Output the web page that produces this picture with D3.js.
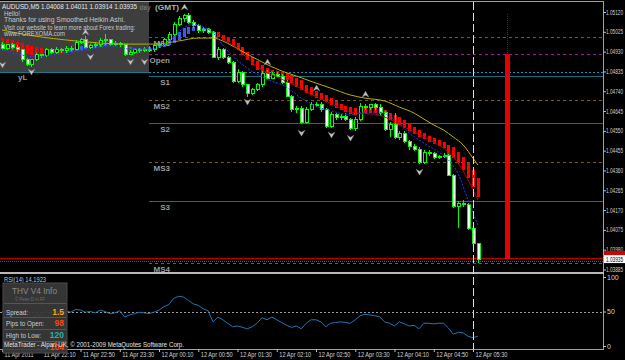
<!DOCTYPE html>
<html>
<head>
<meta charset="utf-8">
<script src="https://cdn.jsdelivr.net/npm/d3@7"></script>
<style>
  body { margin: 0; background: #000; }
  svg { display: block; }
  text { font-family: "Liberation Sans", Arial, sans-serif; }
</style>
</head>
<body>
<div id="chart"></div>
<script>
// AUDUSD M5, 11 Apr 21:30 .. 12 Apr 05:35 (98 bars)
const timeIdx = [0, 8, 16, 24, 32, 40, 48, 56, 64, 72, 80, 88, 96];
const timeLabels = ["11 Apr 2011", "11 Apr 22:10", "11 Apr 22:50", "11 Apr 23:30", "12 Apr 00:10", "12 Apr 00:50",
  "12 Apr 01:30", "12 Apr 02:10", "12 Apr 02:50", "12 Apr 03:30", "12 Apr 04:10", "12 Apr 04:50", "12 Apr 05:30"];
const priceTicks = [1.05120, 1.05025, 1.04930, 1.04835, 1.04740, 1.04645, 1.04550, 1.04455, 1.04360, 1.04265,
  1.04170, 1.04075, 1.03980, 1.03885];

const openP = [1.04966,1.04947,1.04962,1.04952,1.04938,1.04890,1.04870,1.04890,1.04914,1.04909,
  1.04938,1.04928,1.04938,1.04933,1.04947,1.04942,1.04976,1.04986,1.04952,1.04957,
  1.04962,1.04981,1.04986,1.04966,1.04971,1.04962,1.04918,1.04928,1.04938,1.04933,
  1.04942,1.04938,1.04957,1.04966,1.04986,1.05014,1.05062,1.05091,1.05101,1.05072,
  1.05053,1.05029,1.05038,1.05024,1.04904,1.04942,1.04904,1.04880,1.04789,1.04832,
  1.04770,1.04731,1.04750,1.04770,1.04827,1.04803,1.04822,1.04813,1.04784,1.04717,
  1.04650,1.04659,1.04592,1.04654,1.04674,1.04678,1.04650,1.04573,1.04630,1.04616,
  1.04621,1.04606,1.04563,1.04606,1.04669,1.04664,1.04674,1.04664,1.04640,1.04558,
  1.04582,1.04520,1.04539,1.04501,1.04477,1.04462,1.04400,1.04448,1.04443,1.04424,
  1.04429,1.04434,1.04338,1.04189,1.04203,1.04198,1.04083,1.04008];
const highP = [1.04976,1.04966,1.04971,1.04962,1.04942,1.04899,1.04894,1.04923,1.04918,1.04947,
  1.04947,1.04952,1.04947,1.04957,1.04957,1.04986,1.04995,1.05005,1.04966,1.04976,
  1.04995,1.05014,1.04990,1.04981,1.04976,1.04966,1.04938,1.04942,1.04947,1.04952,
  1.04957,1.04966,1.04976,1.04995,1.05024,1.05072,1.05101,1.05110,1.05115,1.05082,
  1.05062,1.05048,1.05043,1.05029,1.04952,1.04947,1.04909,1.04885,1.04846,1.04837,
  1.04774,1.04755,1.04779,1.04837,1.04842,1.04832,1.04832,1.04822,1.04794,1.04722,
  1.04669,1.04669,1.04664,1.04688,1.04688,1.04688,1.04659,1.04640,1.04635,1.04630,
  1.04635,1.04611,1.04616,1.04683,1.04678,1.04678,1.04683,1.04678,1.04645,1.04592,
  1.04635,1.04549,1.04549,1.04506,1.04486,1.04472,1.04458,1.04458,1.04448,1.04434,
  1.04443,1.04438,1.04342,1.04213,1.04218,1.04203,1.04093,1.04011];
const lowP = [1.04938,1.04938,1.04942,1.04928,1.04880,1.04861,1.04856,1.04885,1.04899,1.04904,
  1.04918,1.04918,1.04923,1.04923,1.04928,1.04938,1.04966,1.04947,1.04942,1.04947,
  1.04952,1.04962,1.04957,1.04957,1.04952,1.04909,1.04914,1.04918,1.04923,1.04928,
  1.04928,1.04928,1.04947,1.04957,1.04976,1.05005,1.05053,1.05072,1.05062,1.05043,
  1.05019,1.05019,1.05014,1.04899,1.04890,1.04894,1.04870,1.04779,1.04779,1.04760,
  1.04712,1.04722,1.04741,1.04760,1.04794,1.04798,1.04803,1.04774,1.04712,1.04640,
  1.04635,1.04582,1.04582,1.04645,1.04664,1.04640,1.04563,1.04563,1.04602,1.04602,
  1.04597,1.04554,1.04549,1.04597,1.04650,1.04650,1.04650,1.04626,1.04549,1.04520,
  1.04510,1.04506,1.04491,1.04458,1.04453,1.04390,1.04390,1.04429,1.04414,1.04414,
  1.04419,1.04333,1.04179,1.04083,1.04184,1.04074,1.03997,1.03914];
const closeP = [1.04947,1.04962,1.04952,1.04938,1.04890,1.04870,1.04890,1.04914,1.04909,1.04938,
  1.04928,1.04938,1.04933,1.04947,1.04942,1.04976,1.04986,1.04952,1.04957,1.04962,
  1.04981,1.04986,1.04966,1.04971,1.04962,1.04918,1.04928,1.04938,1.04933,1.04942,
  1.04938,1.04957,1.04966,1.04986,1.05014,1.05062,1.05091,1.05101,1.05072,1.05053,
  1.05029,1.05038,1.05024,1.04904,1.04942,1.04904,1.04880,1.04789,1.04832,1.04770,
  1.04731,1.04750,1.04770,1.04827,1.04803,1.04822,1.04813,1.04784,1.04717,1.04650,
  1.04659,1.04592,1.04654,1.04674,1.04678,1.04650,1.04573,1.04630,1.04616,1.04621,
  1.04606,1.04563,1.04606,1.04669,1.04664,1.04674,1.04664,1.04640,1.04558,1.04582,
  1.04520,1.04539,1.04501,1.04477,1.04462,1.04400,1.04448,1.04443,1.04424,1.04429,
  1.04434,1.04338,1.04189,1.04203,1.04198,1.04083,1.04011,1.03935];

// Smoothed Heikin Ashi bodies
const haOpen = [1.04995,1.04990,1.04986,1.04976,1.04971,1.04962,1.04957,1.04952,1.04947,1.04947,
  1.04942,1.04942,1.04938,1.04923,1.04928,1.04933,1.04938,1.04942,1.04947,1.04947,
  1.04952,1.04957,1.04962,1.04962,1.04962,1.04947,1.04942,1.04942,1.04938,1.04938,
  1.04938,1.04942,1.04947,1.04952,1.04962,1.04971,1.04986,1.05000,1.05014,1.05029,
  1.05034,1.05038,1.05038,1.05029,1.05024,1.05010,1.05000,1.04990,1.04971,1.04952,
  1.04928,1.04904,1.04885,1.04866,1.04851,1.04842,1.04837,1.04832,1.04827,1.04818,
  1.04803,1.04794,1.04770,1.04760,1.04741,1.04731,1.04722,1.04707,1.04693,1.04678,
  1.04669,1.04664,1.04659,1.04659,1.04659,1.04659,1.04659,1.04659,1.04650,1.04635,
  1.04626,1.04616,1.04602,1.04587,1.04568,1.04554,1.04539,1.04525,1.04515,1.04506,
  1.04496,1.04482,1.04472,1.04448,1.04424,1.04395,1.04362,1.04323];
const haClose = [1.04942,1.04938,1.04933,1.04928,1.04923,1.04918,1.04914,1.04914,1.04914,1.04918,
  1.04918,1.04923,1.04923,1.04938,1.04942,1.04947,1.04957,1.04957,1.04957,1.04962,
  1.04966,1.04971,1.04971,1.04966,1.04966,1.04957,1.04952,1.04947,1.04947,1.04947,
  1.04952,1.04957,1.04962,1.04971,1.04986,1.05005,1.05024,1.05043,1.05048,1.05048,
  1.05043,1.05043,1.05043,1.05010,1.05000,1.04986,1.04976,1.04957,1.04938,1.04914,
  1.04890,1.04866,1.04842,1.04827,1.04818,1.04808,1.04808,1.04803,1.04794,1.04779,
  1.04760,1.04746,1.04731,1.04722,1.04707,1.04698,1.04688,1.04674,1.04659,1.04650,
  1.04640,1.04630,1.04626,1.04630,1.04635,1.04635,1.04635,1.04630,1.04616,1.04602,
  1.04587,1.04578,1.04563,1.04549,1.04534,1.04520,1.04510,1.04496,1.04486,1.04477,
  1.04467,1.04434,1.04419,1.04395,1.04362,1.04323,1.04280,1.04232];

// moving averages (bar index, price)
const yellowIdx = [0, 3, 8, 13, 20, 26, 31, 36, 40, 43, 45, 47, 50, 53, 57, 60, 64, 67, 71, 74, 78, 81, 84, 86, 88, 90, 92, 94, 96, 97];
const yellowVal = [1.05034,1.05019,1.05000,1.04986,1.04971,1.04966,1.04966,1.04981,1.04995,1.04995,
  1.04981,1.04957,1.04918,1.04880,1.04837,1.04813,1.04779,1.04755,1.04722,1.04707,
  1.04693,1.04664,1.04635,1.04606,1.04578,1.04554,1.04520,1.04482,1.04419,1.04386];
const redIdx = [45, 47, 50, 53, 56, 60, 63, 66, 69, 72, 76, 79, 82, 85, 88, 91, 93, 95, 97];
const redVal = [1.04986,1.04962,1.04899,1.04842,1.04808,1.04765,1.04726,1.04693,1.04659,1.04635,
  1.04630,1.04606,1.04568,1.04534,1.04496,1.04448,1.04395,1.04314,1.04218];
const blueIdx = [0, 4, 7, 10, 14, 18, 22, 26, 30, 33, 35, 37, 39, 41, 43, 45, 47, 50, 54, 58, 61, 64, 68, 71, 74, 77, 80, 83, 86, 89, 91, 93, 95, 97];
const blueVal = [1.04938,1.04914,1.04904,1.04914,1.04928,1.04942,1.04957,1.04942,1.04942,1.04962,
  1.05000,1.05043,1.05062,1.05048,1.05019,1.04962,1.04909,1.04851,1.04798,1.04760,
  1.04707,1.04669,1.04640,1.04626,1.04640,1.04640,1.04602,1.04539,1.04491,1.04448,
  1.04410,1.04342,1.04218,1.04098];

// fractal style arrows
const upIdx = [17, 37, 54, 64, 74];
const upVal = [1.05024, 1.05144, 1.04880, 1.04755, 1.04726];
const dnIdx = [0, 6, 18, 26, 29, 50, 61, 67, 71, 85];
const dnVal = [1.04866, 1.04832, 1.04904, 1.04880, 1.04880, 1.04688, 1.04539, 1.04530, 1.04515, 1.04352];

// daily levels
const pivotNames = ["MS1", "Open", "S1", "MS2", "S2", "MS3", "S3", "MS4"];
const pivotValues = [1.05000, 1.04918, 1.04813, 1.04698, 1.04587, 1.04400, 1.04213, 1.03915];
const pivotKinds = ["mid", "open", "sup", "mid", "sup", "mid", "sup", "mid"];
const yesterdayLow = 1.04832;
const bidPrice = 1.03935;
const askPrice = 1.03925;
const dayStartIdx = 30;
const dayBar = {idx: 103, open: 1.04918, high: 1.05110, low: 1.03914, close: 1.03935};

// RSI(14)
const rsi = [50,48,49,46,38,35,40,45,44,50, 48,50,49,51,49,53,52,49,50,48,
  52,50,47,48,51,42,45,47,49,48, 47,49,52,57,60,69,72,71,66,61,
  59,54,51,35,42,38,33,28,29,27, 25,28,33,41,38,42,38,34,30,27,
  29,25,33,38,38,35,28,33,34,35, 34,33,38,44,46,45,44,42,35,33,
  29,35,32,29,30,25,33,33,32,33, 33,26,17,20,19,14,12,14.19];

const infoLabels = ["Spread:", "Pips to Open:", "High to Low:", ""];
const infoValues = ["1.5", "98", "120", "104"];
const infoColors = ["#ffa500", "#ff4500", "#20b2aa", "#ff4500"];

const W = 625, H = 360;
const svg = d3.select("#chart").append("svg").attr("width", W).attr("height", H);
svg.append("rect").attr("width", W).attr("height", H).attr("fill", "#000");

const x = d3.scaleLinear().domain([0, 96]).range([2, 473]);
const y = d3.scaleLinear().domain([1.05120, 1.03885]).range([12, 269.5]);
const yr = d3.scaleLinear().domain([0, 100]).range([346, 277]);
const px = i => Math.round(x(i));

const defs = svg.append("defs");
defs.append("clipPath").attr("id", "clipMain").append("rect").attr("x", 0).attr("y", 2).attr("width", 603).attr("height", 270);
defs.append("clipPath").attr("id", "clipRsi").append("rect").attr("x", 0).attr("y", 274).attr("width", 603).attr("height", 75);

const main = svg.append("g").attr("clip-path", "url(#clipMain)");

// yesterday range box
main.append("rect").attr("x", 0).attr("y", 0).attr("width", px(dayStartIdx))
  .attr("height", y(yesterdayLow)).attr("fill", "#3e3e3e");
main.append("line").attr("x1", 0).attr("x2", px(dayStartIdx)).attr("y1", Math.round(y(yesterdayLow)) + 0.5)
  .attr("y2", Math.round(y(yesterdayLow)) + 0.5).attr("stroke", "#1a7a8c");
main.append("line").attr("x1", px(dayStartIdx)).attr("x2", 603).attr("y1", Math.round(y(yesterdayLow)) + 0.5)
  .attr("y2", Math.round(y(yesterdayLow)) + 0.5).attr("stroke", "#2090b0").attr("stroke-dasharray", "2,2");

// pivot lines
const pivStyle = {
  mid: {stroke: "#7a5a2c", dash: "3,3"},
  open: {stroke: "#9a1e9a", dash: "3,3"},
  sup: {stroke: "#1b6e80", dash: null}
};
pivotValues.forEach((v, k) => {
  const st = pivStyle[pivotKinds[k]];
  const yy = Math.round(y(v)) + 0.5;
  main.append("line").attr("x1", px(dayStartIdx)).attr("x2", 603).attr("y1", yy).attr("y2", yy)
    .attr("stroke", st.stroke).attr("stroke-dasharray", st.dash);
  main.append("text").attr("x", 170).attr("y", yy + 8).attr("text-anchor", "end")
    .attr("font-size", 8).attr("font-weight", "bold").attr("fill", "#9a9a9a").text(pivotNames[k]);
});
main.append("line").attr("x1", 0).attr("x2", 603).attr("y1", Math.round(y(askPrice)) + 0.5)
  .attr("y2", Math.round(y(askPrice)) + 0.5).attr("stroke", "#3a6470").attr("stroke-dasharray", "1,1");
main.append("line").attr("x1", 0).attr("x2", 603).attr("y1", Math.round(y(bidPrice)) - 0.5)
  .attr("y2", Math.round(y(bidPrice)) - 0.5).attr("stroke", "#c00000");

// heikin ashi bars
main.append("g").selectAll("rect").data(d3.range(haOpen.length)).join("rect")
  .attr("x", i => px(i) - 1).attr("width", 3)
  .attr("y", i => y(Math.max(haOpen[i], haClose[i])))
  .attr("height", i => Math.max(1, Math.abs(y(haOpen[i]) - y(haClose[i]))))
  .attr("fill", i => haClose[i] < haOpen[i] ? "#ff0000" : "#3a5ae8")
  .attr("shape-rendering", "crispEdges");

// candles
const cg = main.append("g").attr("shape-rendering", "crispEdges");
cg.selectAll("line").data(d3.range(openP.length)).join("line")
  .attr("x1", i => px(i) + 0.5).attr("x2", i => px(i) + 0.5)
  .attr("y1", i => y(highP[i])).attr("y2", i => y(lowP[i]))
  .attr("stroke", "#00ff00");
cg.selectAll("rect").data(d3.range(openP.length)).join("rect")
  .attr("x", i => px(i) - 1).attr("width", 3)
  .attr("y", i => y(Math.max(openP[i], closeP[i])))
  .attr("height", i => Math.max(1, Math.abs(y(openP[i]) - y(closeP[i]))))
  .attr("fill", i => closeP[i] < openP[i] ? "#ffffff" : "#000000")
  .attr("stroke", "#00ff00").attr("stroke-width", 1);

// moving averages
const maLine = (idx, val) => d3.line().x((d, k) => x(idx[k])).y(d => y(d)).curve(d3.curveMonotoneX)(val);
main.append("path").attr("d", maLine(yellowIdx, yellowVal)).attr("fill", "none").attr("stroke", "#bfae00");
main.append("path").attr("d", maLine(redIdx, redVal)).attr("fill", "none").attr("stroke", "#c00000");
main.append("path").attr("d", maLine(blueIdx, blueVal)).attr("fill", "none").attr("stroke", "#2040ff")
  .attr("stroke-dasharray", "2,1.5");

// arrows
main.selectAll("path.up").data(upIdx).join("path").attr("class", "up")
  .attr("transform", (d, k) => `translate(${px(d) + 0.5},${y(upVal[k])})`)
  .attr("d", "M-3.5,3L0,-3L3.5,3L0,1Z").attr("fill", "#c8c8c8").attr("stroke", "#707070").attr("stroke-width", 0.5);
main.selectAll("path.dn").data(dnIdx).join("path").attr("class", "dn")
  .attr("transform", (d, k) => `translate(${px(d) + 0.5},${y(dnVal[k])})`)
  .attr("d", "M-3.5,-3L0,3L3.5,-3L0,-1Z").attr("fill", "#c8c8c8").attr("stroke", "#707070").attr("stroke-width", 0.5);

// daily bar
main.append("line").attr("x1", px(dayBar.idx) + 0.5).attr("x2", px(dayBar.idx) + 0.5)
  .attr("y1", y(dayBar.high)).attr("y2", y(dayBar.low)).attr("stroke", "#5a2a48").attr("stroke-dasharray", "1,1");
main.append("rect").attr("x", px(dayBar.idx) - 2).attr("width", 5)
  .attr("y", y(dayBar.open)).attr("height", y(dayBar.close) - y(dayBar.open)).attr("fill", "#e80000");

// texts in main panel
const txt = (parent, s, tx, ty, size, fill, len, weight) => {
  const t = parent.append("text").attr("x", tx).attr("y", ty).attr("font-size", size).attr("fill", fill).text(s);
  if (len) t.attr("textLength", len).attr("lengthAdjust", "spacingAndGlyphs");
  if (weight) t.attr("font-weight", weight);
  return t;
};
txt(svg, "day", 139.5, 10, 7.5, "#707070", 11, "bold");
txt(svg, "(GMT)", 155, 10, 8, "#b0b0b0", 24, "bold");
txt(svg, "AUDUSD,M5  1.04008 1.04011 1.03914 1.03935", 2, 9, 7.5, "#e8e8e8", 135);
txt(svg, "Hello!", 4, 15.5, 7.5, "#c8c8c8", 16);
txt(svg, "Thanks for using Smoothed Heikin Ashi.", 4, 22, 7.5, "#c8c8c8", 121);
txt(svg, "Visit our website to learn more about Forex trading:", 4, 29.5, 7.5, "#c8c8c8", 131);
txt(svg, "www.FOREXOMA.com", 4, 36, 7.5, "#c8c8c8", 61);
txt(svg, "yL", 18, 80, 8, "#9a9a9a", null, "bold");

// RSI panel
const rg = svg.append("g").attr("clip-path", "url(#clipRsi)");
rg.append("line").attr("x1", 0).attr("x2", 603).attr("y1", Math.round(yr(50)) + 0.5).attr("y2", Math.round(yr(50)) + 0.5)
  .attr("stroke", "#9a9a9a").attr("stroke-dasharray", "2,2");
rg.append("path").attr("d", d3.line().x((d, i) => x(i)).y(d => yr(d))(rsi))
  .attr("fill", "none").attr("stroke", "#1f78b4");

// frames
svg.append("line").attr("x1", 0).attr("x2", 603).attr("y1", 1.5).attr("y2", 1.5).attr("stroke", "#a0a0a0");
svg.append("line").attr("x1", 603.5).attr("x2", 603.5).attr("y1", 1).attr("y2", 349).attr("stroke", "#a0a0a0");
svg.append("rect").attr("x", 0).attr("y", 272).attr("width", 604).attr("height", 2).attr("fill", "#b8b8b8");
svg.append("line").attr("x1", 0).attr("x2", 604).attr("y1", 349.5).attr("y2", 349.5).attr("stroke", "#a0a0a0");

// current time marker
svg.append("line").attr("x1", px(96) + 0.5).attr("x2", px(96) + 0.5).attr("y1", 2).attr("y2", 349)
  .attr("stroke", "#dcdcdc").attr("stroke-dasharray", "8,3");

// price axis
svg.append("g").attr("transform", "translate(603,0)")
  .call(d3.axisRight(y).tickValues(priceTicks).tickFormat(d3.format(".5f")).tickSize(3).tickPadding(0))
  .attr("font-size", 6.5).attr("font-family", "Liberation Sans, Arial, sans-serif")
  .call(a => a.select(".domain").remove())
  .call(a => a.selectAll("line").attr("stroke", "#c0c0c0"))
  .call(a => a.selectAll("text").attr("fill", "#d0d0d0").attr("textLength", 17).attr("lengthAdjust", "spacingAndGlyphs"));

// bid label
svg.append("rect").attr("x", 604).attr("y", 251).attr("width", 21).attr("height", 4).attr("fill", "#d00000");
svg.append("rect").attr("x", 604).attr("y", y(bidPrice) - 4).attr("width", 21).attr("height", 8).attr("fill", "#ffffff");
txt(svg, d3.format(".5f")(bidPrice), 606, y(bidPrice) + 2.5, 6.5, "#000000", 17);

// RSI axis
svg.append("g").attr("transform", "translate(603,0)")
  .call(d3.axisRight(yr).tickValues([100, 50, 0]).tickSize(3).tickPadding(1))
  .attr("font-size", 7).attr("font-family", "Liberation Sans, Arial, sans-serif")
  .call(a => a.select(".domain").remove())
  .call(a => a.selectAll("line").attr("stroke", "#c0c0c0"))
  .call(a => a.selectAll("text").attr("fill", "#d0d0d0"));

// time axis
svg.append("g").attr("transform", "translate(0,349)")
  .call(d3.axisBottom(x).tickValues(timeIdx).tickFormat((d, k) => timeLabels[k]).tickSize(3).tickPadding(0))
  .attr("font-size", 7).attr("font-family", "Liberation Sans, Arial, sans-serif")
  .call(a => a.select(".domain").remove())
  .call(a => a.selectAll("line").attr("stroke", "#c0c0c0"))
  .call(a => a.selectAll("text").attr("fill", "#d0d0d0").attr("text-anchor", "start").attr("x", 2)
    .attr("textLength", (d, k) => k === 0 ? 29 : 32).attr("lengthAdjust", "spacingAndGlyphs"));

// RSI header and info box
txt(svg, "RSI(14) 14.1923", 4, 282, 7, "#c8c8c8", 42);
const box = svg.append("g");
box.append("rect").attr("x", 3).attr("y", 283).attr("width", 64).attr("height", 70)
  .attr("fill", "#3a3a3a").attr("fill-opacity", 0.92).attr("stroke", "#4a4a4a");
[303, 317, 329, 341].forEach(v => box.append("line").attr("x1", 4).attr("x2", 66).attr("y1", v + 0.5).attr("y2", v + 0.5)
  .attr("stroke", "#555555"));
txt(box, "THV  V4  Info", 12, 293.5, 9, "#8a8a8a", 45);
txt(box, "© Peter D in FF", 15, 301, 6, "#6e6e6e", 30);
infoLabels.forEach((s, k) => {
  const yy = 314.5 + k * 11.8;
  if (s) txt(box, s, 6, yy, 7.5, "#cccccc", [22, 38, 35][k]);
  txt(box, infoValues[k], 64, yy, 8.5, infoColors[k], null, "bold").attr("text-anchor", "end");
});
txt(svg, "MetaTrader - Alpari UK, © 2001-2009 MetaQuotes Software Corp.", 4, 347, 7, "#e0e0e0", 180);
</script>
</body>
</html>
